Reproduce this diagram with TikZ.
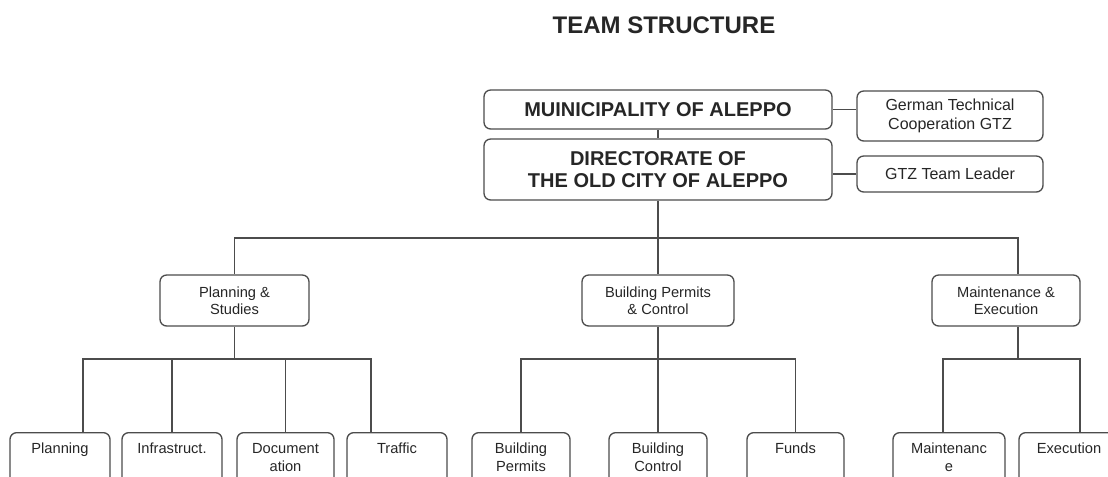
\documentclass[tikz,border=0pt]{standalone}
\usepackage{fontspec}
\setmainfont{Liberation Sans}
\usetikzlibrary{positioning,calc}
\tikzset{
  box/.style={draw=black!70, line width=1pt, rounded corners=5pt, text=black!85, align=center, inner sep=0pt},
  headbox/.style={box, minimum width=261pt, font=\bfseries\fontsize{15}{17}\selectfont},
  sidebox/.style={box, minimum width=139.5pt, font=\fontsize{12}{14}\selectfont},
  unitbox/.style={box, minimum height=38.25pt, font=\fontsize{11}{13}\selectfont},
  leafbox/.style={box, anchor=north, text width=75pt, text height=15.75pt, text depth=29.25pt, font=\fontsize{11}{13}\selectfont},
  link/.style={draw=black!70, line width=1pt}
}
\begin{document}
\begin{tikzpicture}[x=0.75pt,y=-0.75pt]
    \path[use as bounding box] (0,0) rectangle (1108,476);
    \clip (0,0) rectangle (1108,476);
    \node [text=black!85, font=\bfseries\fontsize{18}{20}\selectfont] (title) at (664,25) {TEAM STRUCTURE};
    % top of the chart
    \node [headbox, minimum height=29.25pt] (muni) at (658,109.5) {MUINICIPALITY OF ALEPPO};
    \node [headbox, minimum height=45.75pt] (dir) at (658,169.5) {DIRECTORATE OF\\THE OLD CITY OF ALEPPO};
    \node [sidebox, minimum height=37.5pt] (gtz) at (950,116) {German Technical\\Cooperation GTZ};
    \node [sidebox, minimum height=27pt] (leader) at (950,174) {GTZ Team Leader};
    % departments
    \node [unitbox, minimum width=111.75pt] (plan) at (234.5,300.5) {Planning \&\\Studies};
    \node [unitbox, minimum width=114pt] (build) at (658,300.5) {Building Permits\\\& Control};
    \node [unitbox, minimum width=111pt] (maint) at (1006,300.5) {Maintenance \&\\Execution};
    % sections
    \node [leafbox] (lplan) at (60,432) {Planning};
    \node [leafbox] (linfra) at (172,432) {Infrastruct.};
    \node [leafbox, text width=72.75pt] (ldoc) at (285.5,432) {Document\\ation};
    \node [leafbox] (ltraf) at (397,432) {Traffic};
    \node [leafbox, text width=73.5pt] (lbperm) at (521,432) {Building\\Permits};
    \node [leafbox, text width=73.5pt] (lbctrl) at (658,432) {Building\\Control};
    \node [leafbox, text width=72.75pt] (lfunds) at (795.5,432) {Funds};
    \node [leafbox, text width=84pt] (lmaint) at (949,432) {Maintenanc\\e};
    \node [leafbox] (lexec) at (1069,432) {Execution};
    % bus points
    \coordinate (bus) at (658,238);
    \coordinate (mtop) at ($(maint.north)+(12,0)$);
    \coordinate (mdrop) at ($(maint.south)+(12,0)$);
    \coordinate (pl) at (83,359);
    \coordinate (pr) at (371,359);
    \coordinate (bb) at (658,359);
    \coordinate (ml) at (943,359);
    \coordinate (mr) at (1080,359);
    % connectors
    \draw [link] (muni) -- (dir);
    \draw [link] (muni.east) -- (muni.east -| gtz.west);
    \draw [link] (leader.west) -- (leader.west -| dir.east);
    \draw [link] (dir) -- (build);
    \draw [link] (plan.north) |- (bus) -| (mtop);
    \draw [link] (plan.south) -- (plan.south |- pl);
    \draw [link] (pl |- lplan.north) -- (pl) -- (pr) -- (pr |- ltraf.north);
    \draw [link] (linfra.north) -- (linfra.north |- pl);
    \draw [link] (ldoc.north) -- (ldoc.north |- pl);
    \draw [link] (lbperm.north) |- (bb) -| (lfunds.north);
    \draw [link] (build) -- (lbctrl);
    \draw [link] (mdrop) -- (mdrop |- ml);
    \draw [link] (ml |- lmaint.north) -- (ml) -- (mr) -- (mr |- lexec.north);
\end{tikzpicture}
\end{document}
